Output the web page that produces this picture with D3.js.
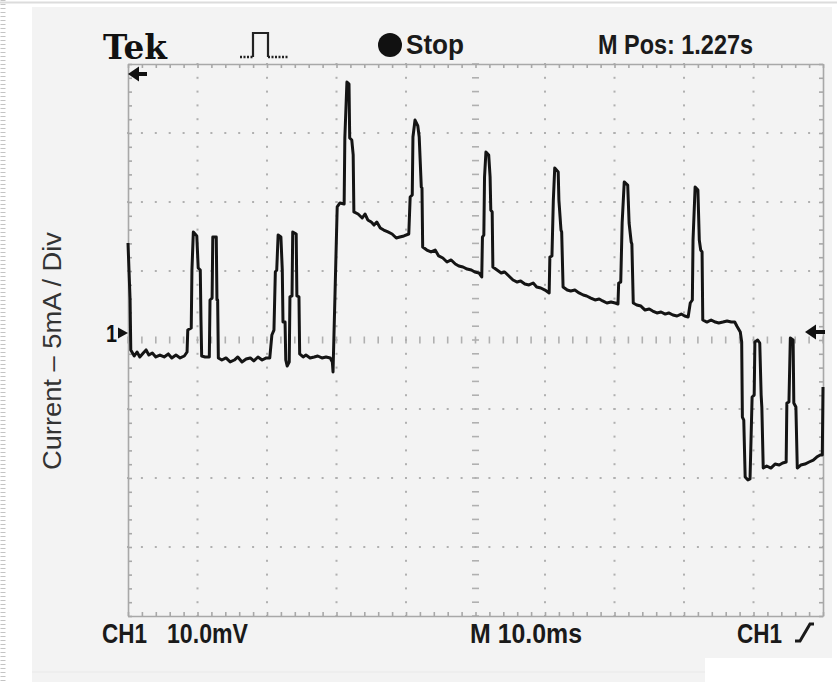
<!DOCTYPE html>
<html><head><meta charset="utf-8">
<script src="https://cdn.jsdelivr.net/npm/d3@7/dist/d3.min.js"></script>
<style>html,body{margin:0;padding:0;background:#fff;}svg{display:block;}</style>
</head><body>
<script>
// ---- data ----
// time in ms (10 ms / div), current in mA (5 mA / div), read off the screen capture
const timeMs = [0,0.3,0.4,0.9,1.3,1.7,2.2,2.6,3.0,3.5,4.0,4.6,5.2,5.8,6.3,6.9,7.5,8.1,8.5,8.6,9.1,9.2,9.4,9.9,10.1,10.4,10.5,10.6,11.1,11.7,11.8,12.1,12.2,12.7,12.8,12.9,13.0,13.5,14.1,14.7,15.3,15.8,16.4,17.0,17.6,18.1,18.7,19.3,19.9,20.4,20.7,21.0,21.2,21.4,21.6,22.0,22.2,22.3,22.6,22.7,22.9,23.2,23.3,23.6,23.7,24.2,24.3,24.6,24.7,25.2,25.6,26.2,26.8,27.3,27.9,28.5,29.1,29.4,29.5,29.8,30.1,30.5,31.1,31.2,31.5,31.8,31.9,32.2,32.4,32.5,33.1,33.7,34.1,34.5,35.0,35.4,35.8,36.3,36.8,37.4,38.0,38.6,39.1,39.7,40.4,40.6,40.9,41.0,41.3,41.7,41.9,42.2,42.3,42.4,43.0,43.6,44.2,44.7,45.3,45.9,46.5,47.1,47.6,48.2,48.8,49.4,49.9,50.5,50.9,51.0,51.2,51.3,51.5,51.9,52.1,52.2,52.4,52.5,53.1,53.7,54.2,54.8,55.4,56.0,56.5,57.1,57.7,58.3,58.8,59.4,60.0,60.6,60.7,61.0,61.2,61.4,61.9,62.0,62.3,62.4,62.6,63.2,63.7,64.3,64.9,65.5,66.0,66.6,67.2,67.8,68.3,68.9,69.5,70.1,70.5,70.6,70.9,71.1,71.4,71.9,72.1,72.4,72.5,72.7,73.2,73.8,74.4,75.0,75.5,76.1,76.7,77.3,77.8,78.4,79.0,79.6,80.1,80.6,80.9,81.2,81.3,81.6,82.0,82.2,82.4,82.6,82.7,83.3,83.9,84.5,85.0,85.6,86.2,86.8,87.3,87.6,88.1,88.3,88.4,88.6,88.8,89.2,89.5,89.8,90.1,90.2,90.6,90.9,91.1,91.2,91.4,91.9,92.5,93.1,93.7,94.2,94.7,94.8,95.1,95.3,95.7,95.8,96.1,96.3,96.8,97.4,98.0,98.6,99.1,99.6,99.9,100];
const currentMA = [7.03,2.90,-0.72,-1.16,-0.87,-1.23,-0.94,-0.72,-1.09,-0.94,-1.23,-1.09,-1.23,-1.01,-1.30,-1.09,-1.30,-1.16,-0.87,0.72,0.87,5.07,7.83,7.54,5.22,5.07,1.45,-1.16,-1.23,-1.23,2.90,3.04,7.46,7.46,2.90,2.90,-1.30,-1.45,-1.30,-1.59,-1.45,-1.23,-1.59,-1.38,-1.30,-1.52,-1.23,-1.45,-1.30,-1.30,0.36,0.72,4.93,5.07,7.61,7.46,5.07,1.30,1.30,-1.45,-1.88,-1.59,3.12,3.19,7.83,7.68,3.19,3.12,-1.01,-1.23,-1.09,-1.30,-1.23,-1.16,-1.30,-1.23,-1.30,-1.59,-2.32,3.62,9.64,9.93,9.86,14.64,18.70,18.55,14.64,14.49,13.41,9.28,9.13,8.84,9.13,8.70,8.55,8.33,8.55,8.12,7.97,7.83,7.68,7.39,7.46,7.54,7.68,10.36,10.51,14.71,15.94,15.51,14.71,11.09,11.01,6.74,6.52,6.38,6.52,6.09,5.94,5.65,5.80,5.51,5.36,5.29,5.14,5.07,4.93,4.86,4.57,7.46,7.61,11.81,13.62,13.41,11.81,9.42,9.28,5.29,5.07,4.86,4.93,4.64,4.35,4.20,4.28,4.06,3.99,4.13,3.84,3.77,3.62,3.41,6.01,6.09,10.14,12.46,12.17,10.14,7.97,7.83,3.84,3.62,3.55,3.62,3.41,3.26,3.19,3.04,2.90,2.97,2.83,2.68,2.75,2.68,2.61,4.13,4.20,8.48,11.45,11.23,8.48,7.10,6.96,2.68,2.54,2.46,2.17,2.25,2.10,1.96,2.03,1.88,1.96,1.81,1.74,1.88,1.74,1.67,2.68,2.90,7.25,11.09,10.87,7.25,6.52,6.38,1.45,1.30,1.45,1.30,1.23,1.30,1.38,1.30,1.30,1.01,0.58,-0.14,-5.58,-5.80,-9.93,-10.14,-10.07,-4.13,-3.99,-0.14,0,-0.22,-3.99,-4.86,-9.28,-9.13,-9.28,-8.99,-9.06,-8.91,-8.84,-4.57,-4.49,0.14,0,-4.57,-4.86,-9.28,-9.06,-8.99,-8.84,-8.70,-8.48,-8.33,-8.33,-3.41];
const timeDomain = [0, 100];      // ms, 10 divisions of 10 ms
const currentDomain = [-20, 20];  // mA, 8 divisions of 5 mA
const majorTimeTicks = [0,10,20,30,40,50,60,70,80,90,100];
const majorCurrentTicks = [-20,-15,-10,-5,0,5,10,15,20];
const headerLabels = ["Tek", "Stop", "M Pos: 1.227s"];
const footerLabels = ["CH1", "10.0mV", "M 10.0ms", "CH1"];
const yAxisLabel = "Current \u2013 5mA / Div";
const groundMarker = "1";

// ---- drawing ----
const W = 837, H = 682;
const svg = d3.select("body").append("svg").attr("width", W).attr("height", H);

// page decorations
svg.append("line").attr("x1",0).attr("x2",W).attr("y1",2.5).attr("y2",2.5)
  .attr("stroke","#dcdcdc").attr("stroke-width",2);
svg.append("line").attr("x1",3).attr("x2",3).attr("y1",0).attr("y2",H)
  .attr("stroke","#c4c4c4").attr("stroke-width",5).attr("stroke-dasharray","1 3");
svg.append("rect").attr("x",32).attr("y",7).attr("width",800).attr("height",H-7).attr("fill","#f3f3f3");
svg.append("line").attr("x1",32).attr("x2",705).attr("y1",672).attr("y2",672)
  .attr("stroke","#e9e9e9").attr("stroke-width",1);
svg.append("rect").attr("x",705).attr("y",658).attr("width",W-705).attr("height",H-658).attr("fill","#ffffff");

const x = d3.scaleLinear().domain(timeDomain).range([128, 823]);
const y = d3.scaleLinear().domain(currentDomain).range([616, 64]);

const grid = svg.append("g");
const minorT = d3.range(timeDomain[0], timeDomain[1] + 0.001, 2);
const minorC = d3.range(currentDomain[0], currentDomain[1] + 0.001, 1);
const dotColor = "#b0b0b0";

// dotted vertical grid lines
majorTimeTicks.slice(1, -1).forEach(t => {
  const center = t === 50;
  minorC.forEach(c => {
    if (center) {
      grid.append("line").attr("x1", x(t) - 3.5).attr("x2", x(t) + 3.5)
        .attr("y1", y(c)).attr("y2", y(c)).attr("stroke", dotColor).attr("stroke-width", 1.6);
    } else {
      grid.append("rect").attr("x", x(t) - 1).attr("y", y(c) - 1).attr("width", 2).attr("height", 2).attr("fill", dotColor);
    }
  });
});
// dotted horizontal grid lines
majorCurrentTicks.slice(1, -1).forEach(c => {
  const center = c === 0;
  minorT.forEach(t => {
    if (center) {
      grid.append("line").attr("x1", x(t)).attr("x2", x(t))
        .attr("y1", y(c) - 3.5).attr("y2", y(c) + 3.5).attr("stroke", dotColor).attr("stroke-width", 1.6);
    } else {
      grid.append("rect").attr("x", x(t) - 1).attr("y", y(c) - 1).attr("width", 2).attr("height", 2).attr("fill", dotColor);
    }
  });
});
// border with minor ticks (via axes)
const tickFmt = () => "";
const axTop = d3.axisBottom(x).tickValues(minorT).tickSize(4).tickSizeOuter(0).tickFormat(tickFmt);
const axBot = d3.axisTop(x).tickValues(minorT).tickSize(4).tickSizeOuter(0).tickFormat(tickFmt);
const axL = d3.axisRight(y).tickValues(minorC).tickSize(4).tickSizeOuter(0).tickFormat(tickFmt);
const axR = d3.axisLeft(y).tickValues(minorC).tickSize(4).tickSizeOuter(0).tickFormat(tickFmt);
[[axTop, `translate(0,${y(currentDomain[1])})`],
 [axBot, `translate(0,${y(currentDomain[0])})`],
 [axL, `translate(${x(timeDomain[0])},0)`],
 [axR, `translate(${x(timeDomain[1])},0)`]].forEach(([ax, tr]) => {
  const g = svg.append("g").attr("transform", tr).call(ax);
  g.selectAll("path,line").attr("stroke", "#a8a8a8").attr("stroke-width", 1.6);
});

// trace
const pts = timeMs.map((t, i) => [t, currentMA[i]]);
const line = d3.line().x(d => x(d[0])).y(d => y(d[1]));
svg.append("path").attr("d", line(pts)).attr("fill", "none")
  .attr("stroke", "#141414").attr("stroke-width", 3).attr("stroke-linejoin", "round");

// header
svg.append("text").attr("x", 103).attr("y", 59).text(headerLabels[0])
  .attr("font-family", "'DejaVu Serif', 'Liberation Serif', serif").attr("font-weight", "bold")
  .attr("font-size", 33).attr("textLength", 64).attr("lengthAdjust", "spacingAndGlyphs").attr("fill", "#111");
// pulse icon
svg.append("path").attr("d", "M240,57 L253,57").attr("stroke", "#222").attr("stroke-width", 2.4).attr("stroke-dasharray", "2 1.5");
svg.append("path").attr("d", "M268,57 L288,57").attr("stroke", "#222").attr("stroke-width", 2.4).attr("stroke-dasharray", "2 1.5");
svg.append("path").attr("d", "M253,57 L253,33 L268,33 L268,57")
  .attr("fill", "none").attr("stroke", "#222").attr("stroke-width", 2.2);
svg.append("circle").attr("cx", 390).attr("cy", 45).attr("r", 12).attr("fill", "#111");
const lbl = (txt, xx, yy, len) => svg.append("text").attr("x", xx).attr("y", yy).text(txt)
  .attr("font-family", "'Liberation Sans Narrow', 'Liberation Sans', Arial, sans-serif")
  .attr("font-weight", "bold").attr("font-size", 28).attr("fill", "#1a1a1a")
  .attr("textLength", len).attr("lengthAdjust", "spacingAndGlyphs");
lbl(headerLabels[1], 406, 54, 58);
lbl(headerLabels[2], 598, 54, 155);
lbl(footerLabels[0], 102, 643, 45);
lbl(footerLabels[1], 167, 643, 81);
lbl(footerLabels[2], 470, 643, 112);
lbl(footerLabels[3], 737, 643, 45);
// trigger slope icon
svg.append("path").attr("d", "M795,641 L800,641 L810,624 L814,624")
  .attr("fill", "none").attr("stroke", "#1a1a1a").attr("stroke-width", 3);

// arrows
const arrow = (xh, yy, len) => {
  svg.append("line").attr("x1", xh + 6).attr("x2", xh + len).attr("y1", yy).attr("y2", yy)
    .attr("stroke", "#111").attr("stroke-width", 4);
  svg.append("path").attr("d", `M${xh},${yy} L${xh + 11},${yy - 7.5} L${xh + 11},${yy + 7.5} Z`).attr("fill", "#111");
};
arrow(128, 74, 19);
arrow(805, 332, 20);

// ground marker
svg.append("text").attr("x", 106).attr("y", 342).text(groundMarker)
  .attr("font-family", "'Liberation Sans', Arial, sans-serif").attr("font-weight", "bold")
  .attr("font-size", 24).attr("fill", "#111").attr("textLength", 11).attr("lengthAdjust", "spacingAndGlyphs");
svg.append("path").attr("d", "M118,327.5 L128,333 L118,338.5 Z").attr("fill", "#111");

// y axis label
svg.append("text").attr("transform", "translate(61,351) rotate(-90)").attr("text-anchor", "middle")
  .text(yAxisLabel).attr("font-family", "'Liberation Sans', Arial, sans-serif")
  .attr("font-size", 25).attr("fill", "#333").attr("textLength", 238).attr("lengthAdjust", "spacingAndGlyphs");
</script>
</body></html>
